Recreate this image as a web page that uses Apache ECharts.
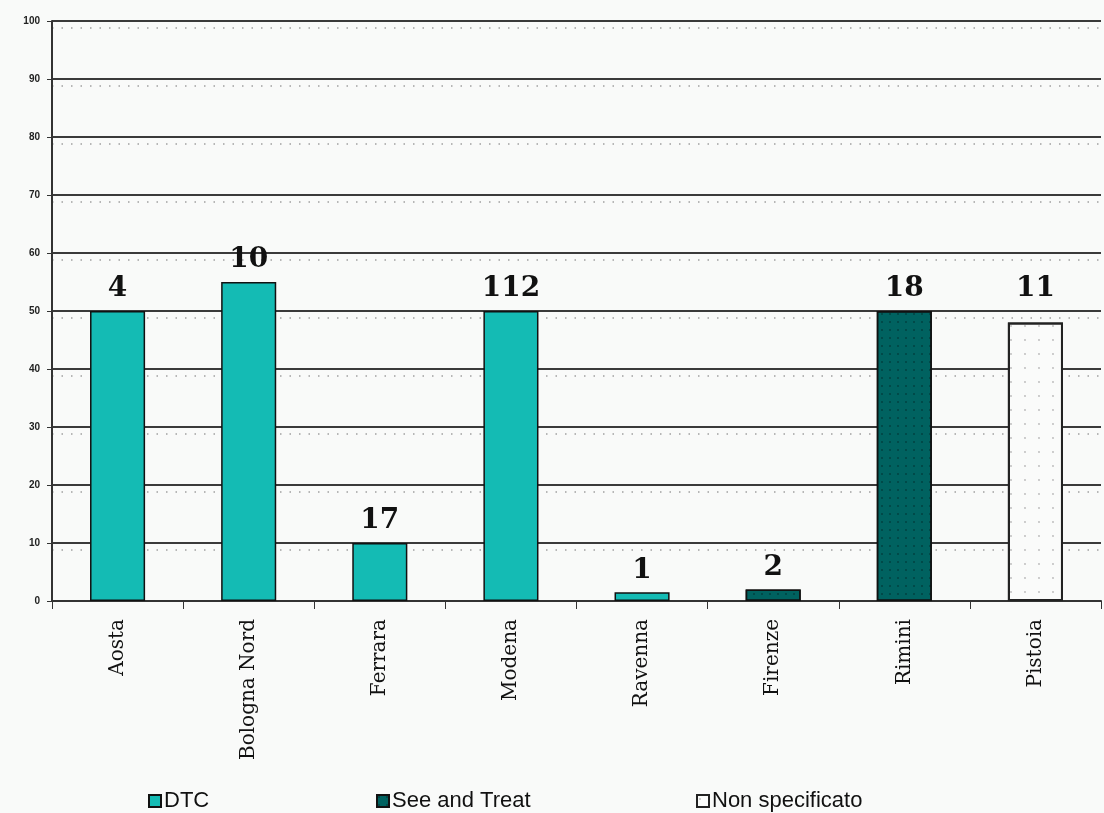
<!DOCTYPE html>
<html><head><meta charset="utf-8">
<script src="https://cdn.jsdelivr.net/npm/echarts@6/dist/echarts.min.js"></script>
<style>html,body{margin:0;padding:0;background:#f9faf9}#c{width:1104px;height:813px}</style>
</head><body><div id="c"></div>
<script>
const categories = ["Aosta","Bologna Nord","Ferrara","Modena","Ravenna","Firenze","Rimini","Pistoia"];
const dtcValues = [50, 55, 10, 50, 1.5, null, null, null];
const seeTreatValues = [null, null, null, null, null, 2, 50, null];
const nonSpecValues = [null, null, null, null, null, null, null, 48];
const countLabels = ["4","10","17","112","1","2","18","11"];
const yTicks = [0,10,20,30,40,50,60,70,80,90,100];
const legendNames = ['DTC','See and Treat','Non specificato'];

const labelCfg = (dist) => ({
  show: true, position: 'top', distance: dist,
  formatter: p => countLabels[p.dataIndex],
  fontFamily: 'DejaVu Serif', fontWeight: 'bold', fontSize: 28, color: '#111'
});
const legendLefts = [148, 376, 696];
const legends = legendNames.map((n, i) => ({
  data: [n], left: legendLefts[i], bottom: 1, padding: 0,
  itemWidth: 12, itemHeight: 12, icon: 'rect', itemGap: 3,
  textStyle: { fontFamily: 'Liberation Sans', fontSize: 22, color: '#111', padding: [0,0,0,-2] }
}));
const chart = echarts.init(document.getElementById('c'));
chart.setOption({
  backgroundColor: '#f9faf9',
  animation: false,
  grid: { left: 52, right: 3, top: 21, bottom: 212 },
  legend: legends,
  xAxis: {
    type: 'category', data: categories,
    axisLine: { lineStyle: { color: '#333', width: 2 } },
    axisTick: { show: true, length: 8, lineStyle: { color: '#333' } },
    axisLabel: { rotate: 90, margin: 18, fontFamily: 'DejaVu Serif', fontSize: 20, color: '#111' }
  },
  yAxis: {
    type: 'value', min: 0, max: 100, interval: 10,
    axisLine: { show: true, lineStyle: { color: '#333', width: 2 } },
    axisTick: { show: true, length: 5, lineStyle: { color: '#333' } },
    axisLabel: { margin: 12, fontFamily: 'Liberation Sans', fontWeight: 'bold', fontSize: 10, color: '#222',
      formatter: v => yTicks.includes(v) ? String(v) : '' },
    splitLine: { lineStyle: { color: '#3a3a3a', width: 2 } }
  },
  series: [
    { name: 'grid-dots', type: 'line', data: [], silent: true, z: 0,
      markLine: { silent: true, symbol: 'none', label: { show: false }, z: 0,
        lineStyle: { type: [1.5, 8], color: '#a0a0a0', width: 1.5 },
        data: yTicks.slice(1).map(v => ({ yAxis: v - 1.2 })) } },
    { name: 'DTC', type: 'bar', stack: 'all', data: dtcValues, barWidth: '42%',
      itemStyle: { color: '#14bbb4', borderColor: '#111', borderWidth: 1.5 }, label: labelCfg(8), z: 3 },
    { name: 'See and Treat', type: 'bar', stack: 'all', data: seeTreatValues, barWidth: '42%',
      itemStyle: { color: '#006260', borderColor: '#111', borderWidth: 1.5,
        decal: { symbol: 'circle', symbolSize: 0.4, color: 'rgba(0,0,0,0.55)', dashArrayX: [[4,4]], dashArrayY: [4,4], rotation: 0 } },
      label: labelCfg(8), z: 3 },
    { name: 'Non specificato', type: 'bar', stack: 'all', data: nonSpecValues, barWidth: '42%',
      itemStyle: { color: '#fafbfa', borderColor: '#222', borderWidth: 2,
        decal: { symbol: 'circle', symbolSize: 0.3, color: 'rgba(120,120,120,0.5)', dashArrayX: [[6,8]], dashArrayY: [8,6], rotation: 0 } },
      label: labelCfg(20), z: 3 }
  ]
});
</script></body></html>
